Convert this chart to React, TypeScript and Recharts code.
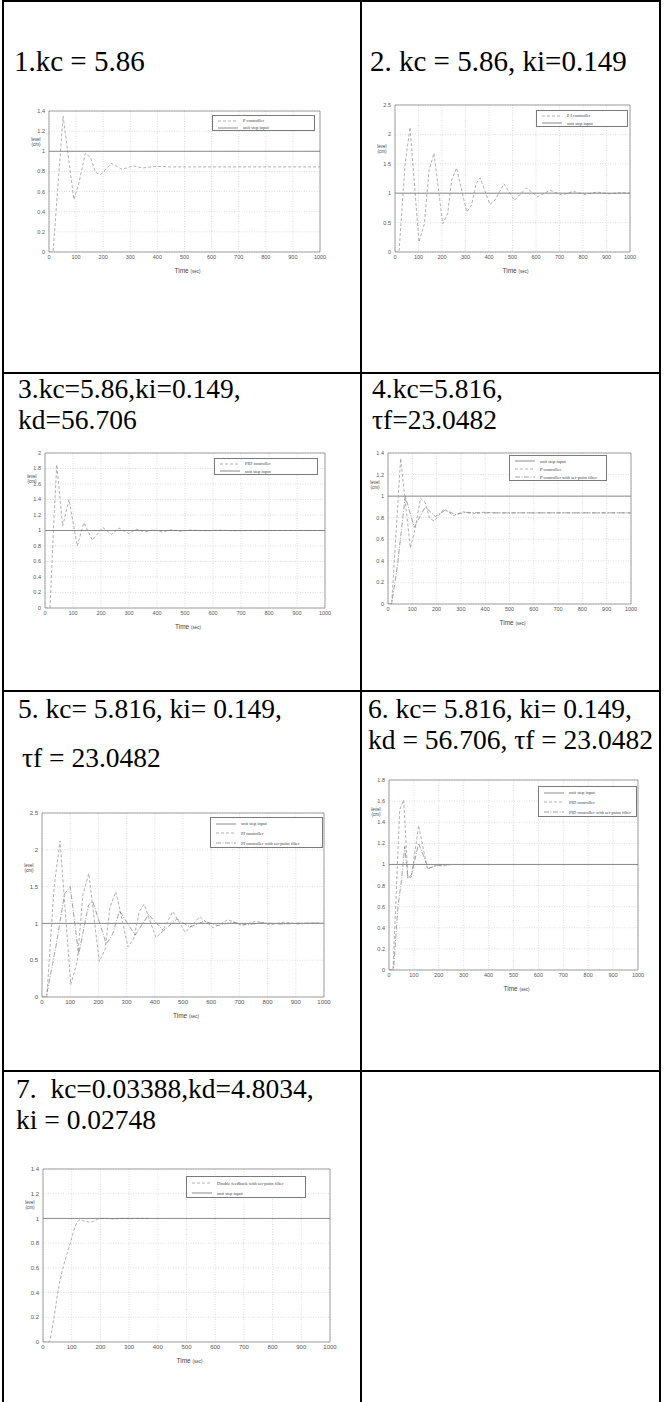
import React from "react";
import { CartesianGrid, Line, LineChart, ReferenceArea, XAxis, YAxis } from "recharts";

// axis ticks
const timeTicks = [0, 100, 200, 300, 400, 500, 600, 700, 800, 900, 1000];
const levelTicks14 = [0, 0.2, 0.4, 0.6, 0.8, 1, 1.2, 1.4];
const levelTicks18 = [0, 0.2, 0.4, 0.6, 0.8, 1, 1.2, 1.4, 1.6, 1.8];
const levelTicks20 = [0, 0.2, 0.4, 0.6, 0.8, 1, 1.2, 1.4, 1.6, 1.8, 2];
const levelTicks25 = [0, 0.5, 1, 1.5, 2, 2.5];

// unit step input
const stepTime = [0, 1000];
const stepLevel = [1, 1];

// P controller (plots 1 and 4)
const pTime = [0, 15, 52, 92, 110, 134, 153, 172, 191, 230, 270, 310, 347, 390, 450, 1000];
const pLevel = [0, 0, 1.35, 0.52, 0.68, 0.98, 0.94, 0.79, 0.77, 0.88, 0.82, 0.855, 0.835, 0.85, 0.845, 0.845];

// P controller with set-point filter (plot 4)
const pfTime = [0, 15, 30, 40, 71, 108, 153, 195, 236, 277, 320, 380, 1000];
const pfLevel = [0, 0, 0.22, 0.38, 1.0, 0.71, 0.9, 0.81, 0.87, 0.83, 0.85, 0.845, 0.845];

// PI controller (plots 2 and 5)
const piTime = [0, 17, 43, 64, 102, 125, 145, 166, 203, 224, 241, 262, 305, 326, 345, 362, 404, 425, 464, 508, 560, 607, 660, 709, 759, 808, 861, 908, 965, 1000];
const piLevel = [0, 0, 1.5, 2.12, 0.17, 0.48, 1.39, 1.68, 0.48, 0.65, 1.22, 1.43, 0.68, 0.8, 1.16, 1.26, 0.81, 0.88, 1.16, 0.88, 1.09, 0.94, 1.05, 0.97, 1.03, 0.98, 1.02, 0.99, 1.01, 1.0];

// PI controller with set-point filter (plot 5)
const pifTime = [0, 15, 50, 80, 100, 130, 165, 180, 228, 250, 275, 330, 378, 431, 478, 525, 575, 625, 675, 725, 780, 850, 920, 1000];
const pifLevel = [0, 0, 0.7, 1.4, 1.5, 0.58, 1.25, 1.3, 0.72, 0.85, 1.17, 0.84, 1.12, 0.9, 1.06, 0.95, 1.03, 0.97, 1.02, 0.98, 1.01, 0.99, 1.005, 1.0];

// PID controller (plot 3)
const pidTime = [0, 18, 30, 42, 63, 86, 115, 139, 169, 206, 238, 265, 298, 327, 357, 387, 420, 452, 482, 518, 577, 625, 673, 732, 1000];
const pidLevel = [0, 0, 1.0, 1.85, 1.056, 1.4, 0.8, 1.1, 0.875, 1.04, 0.95, 1.03, 0.96, 1.017, 0.98, 1.01, 0.98, 1.01, 0.99, 1.005, 0.996, 1.004, 0.996, 1.0, 1.0];

// PID controller, plot 6
const pid6Time = [0, 16, 43, 59, 76, 90, 119, 154, 190, 220, 250];
const pid6Level = [0, 0, 1.52, 1.61, 0.87, 0.88, 1.37, 0.96, 0.99, 0.985, 1.0];

// PID controller with set-point filter (plot 6)
const pidfTime = [0, 18, 36, 50, 63, 76, 90, 119, 150, 157, 190, 250];
const pidfLevel = [0, 0, 0.6, 0.85, 1.17, 0.87, 0.9, 1.2, 1.01, 0.96, 0.99, 1.0];

// double feedback with set-point filter (plot 7)
const dfTime = [0, 20, 37, 55, 72, 95, 113, 130, 142, 165, 200, 223, 246, 269, 304, 370];
const dfLevel = [0, 0, 0.18, 0.45, 0.62, 0.8, 0.94, 0.99, 0.98, 0.97, 1.0, 1.0, 0.995, 1.0, 1.0, 1.0];

type Kind = "solid" | "dash" | "dashdot";
type Series = { name: string; time: number[]; level: number[]; kind: Kind; smooth?: boolean };
type Rect = { x: number; y: number; w: number; h: number };

const look: Record<Kind, { stroke: string; dash?: string }> = {
  solid: { stroke: "#6e6e6e" },
  dash: { stroke: "#9c9c9c", dash: "3 2" },
  dashdot: { stroke: "#8a8a8a", dash: "5 1.5 1 1.5" },
};

const pts = (time: number[], level: number[]) => time.map((t, i) => ({ time: t, level: level[i] }));

const PADL = 30;
const PADT = 6;
const PADR = 8;
const PADB = 24;

function Panel({ plot, yMax, yTicks, series, legend, levelAt, fs = 5.5 }: {
  plot: Rect; yMax: number; yTicks: number[]; series: Series[]; legend: Rect; levelAt: number; fs?: number;
}) {
  const W = plot.w + PADL + PADR;
  const H = plot.h + PADT + PADB;
  const ox = plot.x - PADL;
  const oy = plot.y - PADT;
  const tickStyle = { fontSize: fs, fill: "#555", fontFamily: "Liberation Sans" };
  const rowH = (legend.h - 2) / series.length;
  return (
    <div style={{ position: "absolute", left: ox, top: oy, width: W, height: H }}>
      <LineChart width={W} height={H} margin={{ top: PADT, right: PADR, left: 0, bottom: 0 }}>
        <CartesianGrid stroke="#c8c8c8" strokeDasharray="1 1.5" strokeWidth={0.6} />
        <XAxis dataKey="time" type="number" domain={[0, 1000]} ticks={timeTicks} interval={0}
          height={PADB} axisLine={false} tickLine={false} tickSize={2} tickMargin={1} tick={tickStyle} allowDataOverflow />
        <YAxis type="number" domain={[0, yMax]} ticks={yTicks} interval={0}
          width={PADL} axisLine={false} tickLine={false} tickSize={2} tickMargin={2} tick={tickStyle} allowDataOverflow />
        <ReferenceArea x1={0} x2={1000} y1={0} y2={yMax} fill="none" fillOpacity={0} stroke="#8c8c8c" strokeWidth={0.8} ifOverflow="visible" />
        {series.map((s) => (
          <Line key={s.name} data={pts(s.time, s.level)} dataKey="level" type={s.smooth ? "monotone" : "linear"} dot={false} activeDot={false}
            stroke={look[s.kind].stroke} strokeDasharray={look[s.kind].dash} strokeWidth={0.8} isAnimationActive={false} />
        ))}
      </LineChart>

      <div style={{ position: "absolute", left: legend.x - ox, top: legend.y - oy, width: legend.w, height: legend.h,
        border: "0.8px solid #7a7a7a", background: "#fff", boxSizing: "border-box", paddingTop: 1 }}>
        {series.map((s) => (
          <div key={s.name} style={{ display: "flex", alignItems: "center", height: rowH }}>
            <svg width={20} height={4} style={{ marginLeft: 5, flex: "none" }}>
              <line x1={0} y1={2} x2={20} y2={2} stroke={look[s.kind].stroke} strokeWidth={0.8} strokeDasharray={look[s.kind].dash} />
            </svg>
            <span style={{ marginLeft: 5, fontSize: 4.5, lineHeight: "5px", fontFamily: "Liberation Serif", color: "#444", whiteSpace: "nowrap" }}>
              {s.name}
            </span>
          </div>
        ))}
      </div>

      <div style={{ position: "absolute", left: PADL + plot.w / 2 - 10, top: PADT + plot.h + 7, whiteSpace: "nowrap",
        fontFamily: "Liberation Sans", color: "#444" }}>
        <span style={{ fontSize: 6.5 }}>Time </span>
        <span style={{ fontSize: 4.5 }}>(sec)</span>
      </div>
      <div style={{ position: "absolute", left: PADL - 21, width: 16, top: PADT + plot.h * levelAt - 5, textAlign: "center",
        fontFamily: "Liberation Sans", fontSize: 4.5, lineHeight: "5px", color: "#444" }}>
        level<br />(cm)
      </div>
    </div>
  );
}

const Cell = ({ x, base, lines, size = 27.5, gap = 31 }: { x: number; base: number; lines: string[]; size?: number; gap?: number }) => (
  <>
    {lines.map((l, i) => (
      <div key={i} style={{ position: "absolute", left: x, top: base + i * gap - Math.round(size * 0.9), height: size,
        fontFamily: "'Liberation Serif', 'Times New Roman', serif", fontSize: size, lineHeight: `${Math.round(size * 1.1)}px`,
        color: "#000", whiteSpace: "pre" }}>
        {l}
      </div>
    ))}
  </>
);

const HLine = ({ y }: { y: number }) => (
  <div style={{ position: "absolute", left: 2, top: y, width: 659, height: 2, background: "#000" }} />
);
const VLine = ({ x }: { x: number }) => (
  <div style={{ position: "absolute", left: x, top: 0, width: 2, height: 1402, background: "#000" }} />
);

export default function App() {
  const step: Series = { name: "unit step input", time: stepTime, level: stepLevel, kind: "solid" };
  return (
    <div style={{ position: "absolute", left: 0, top: 0, width: 670, height: 1402, background: "#fff", overflow: "hidden" }}>
      <HLine y={0} />
      <HLine y={372} />
      <HLine y={690} />
      <HLine y={1070} />
      <VLine x={2} />
      <VLine x={360} />
      <VLine x={659} />

      <Cell x={14} base={71} size={29} lines={["1.kc = 5.86"]} />
      <Cell x={370} base={71} size={29} lines={["2. kc = 5.86, ki=0.149"]} />
      <Cell x={18} base={399} lines={["3.kc=5.86,ki=0.149,", "kd=56.706"]} />
      <Cell x={372} base={399} lines={["4.kc=5.816,", "τf=23.0482"]} />
      <Cell x={18} base={719} lines={["5. kc= 5.816, ki= 0.149,"]} />
      <Cell x={22} base={768} lines={["τf = 23.0482"]} />
      <Cell x={368} base={719} lines={["6. kc= 5.816, ki= 0.149,", "kd = 56.706, τf = 23.0482"]} />
      <Cell x={16} base={1099} lines={["7.  kc=0.03388,kd=4.8034,", "ki = 0.02748"]} />

      <Panel plot={{ x: 49, y: 111, w: 271, h: 141 }} yMax={1.4} yTicks={levelTicks14} levelAt={0.22}
        legend={{ x: 212, y: 115, w: 103, h: 16 }}
        series={[{ name: "P controller", time: pTime, level: pLevel, kind: "dash" }, { ...step, name: " unit step input" }]} />
      <Panel plot={{ x: 395, y: 105, w: 235, h: 147 }} yMax={2.5} yTicks={levelTicks25} levelAt={0.3}
        legend={{ x: 536, y: 110, w: 92, h: 17 }}
        series={[{ name: "P I controller", time: piTime, level: piLevel, kind: "dash" }, { ...step, name: " unit step input" }]} />
      <Panel plot={{ x: 45, y: 453, w: 280, h: 155 }} yMax={2} yTicks={levelTicks20} levelAt={0.165}
        legend={{ x: 214, y: 458, w: 104, h: 17 }}
        series={[{ name: "PID controller", time: pidTime, level: pidLevel, kind: "dash" }, step]} />
      <Panel plot={{ x: 388, y: 453, w: 243, h: 151 }} yMax={1.4} yTicks={levelTicks14} levelAt={0.21}
        legend={{ x: 509, y: 455, w: 98, h: 26 }}
        series={[step, { name: " P controller", time: pTime, level: pLevel, kind: "dash" },
          { name: " P controller with set-point filter", time: pfTime, level: pfLevel, kind: "dashdot" }]} />
      <Panel plot={{ x: 42, y: 813, w: 282, h: 184 }} yMax={2.5} yTicks={levelTicks25} levelAt={0.3} fs={6}
        legend={{ x: 210, y: 817, w: 113, h: 31 }}
        series={[step, { name: "PI controller", time: piTime, level: piLevel, kind: "dash" },
          { name: "PI controller with set-point filter", time: pifTime, level: pifLevel, kind: "dashdot" }]} />
      <Panel plot={{ x: 389, y: 780, w: 249, h: 190 }} yMax={1.8} yTicks={levelTicks18} levelAt={0.17}
        legend={{ x: 538, y: 786, w: 99, h: 31 }}
        series={[step, { name: "PID controller", time: pid6Time, level: pid6Level, kind: "dash" },
          { name: "PID controller with set-point filter", time: pidfTime, level: pidfLevel, kind: "dashdot" }]} />
      <Panel plot={{ x: 43, y: 1169, w: 287, h: 173 }} yMax={1.4} yTicks={levelTicks14} levelAt={0.21} fs={6}
        legend={{ x: 186, y: 1176, w: 120, h: 22 }}
        series={[{ name: "Double feedback with set-point filter", time: dfTime, level: dfLevel, kind: "dash", smooth: true }, { ...step, name: " unit step input" }]} />
    </div>
  );
}
